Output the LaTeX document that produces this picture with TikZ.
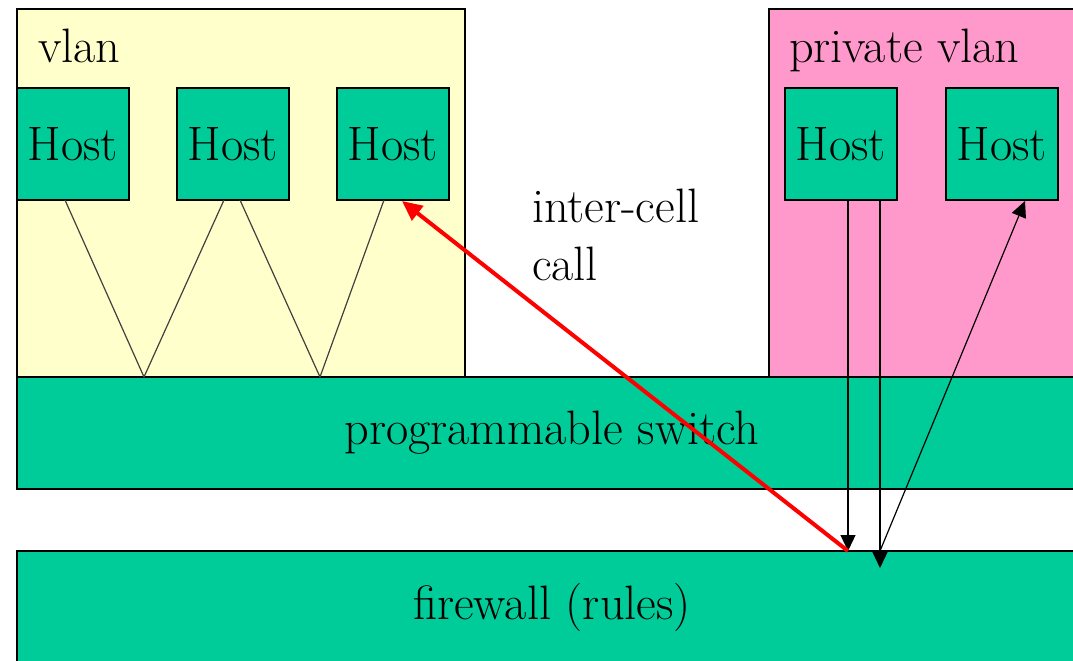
\documentclass[tikz,border=0pt]{standalone}
\usetikzlibrary{arrows.meta,calc}
\definecolor{hostgreen}{HTML}{00CC99}
\definecolor{vlanyellow}{HTML}{FFFFCC}
\definecolor{vlanpink}{HTML}{FF99CC}
\definecolor{callred}{HTML}{FF0000}

\begin{document}
\begin{tikzpicture}[x=1bp, y=-1bp,
  font=\rmfamily\fontsize{48.5}{58}\selectfont,
  every node/.style={outer sep=0pt},
  region/.style={draw=black, line width=1.3bp, anchor=north west, inner sep=0pt,
                 minimum height=368bp},
  hostbox/.style={draw=black, line width=1.3bp, fill=hostgreen, anchor=north west,
                  inner sep=0pt, minimum width=112bp, minimum height=112bp},
  bar/.style={draw=black, line width=1.3bp, fill=hostgreen, anchor=north west,
              inner sep=0pt, minimum width=1070bp, minimum height=112bp},
  label/.style={anchor=base west, inner sep=0pt},
  link/.style={draw=black!75, line width=1.2bp},
  flow/.style={draw=black, line width=1.2bp, -{Triangle[length=16bp, width=15bp]}},
  callarrow/.style={draw=callred, line width=4bp, -{Triangle[length=20bp, width=18bp]}}]

\useasboundingbox (0,0) rectangle (1073,661);
\clip (0,0) rectangle (1073,661);

% the two vlan regions
\node[region, fill=vlanyellow, minimum width=448bp] (vlan) at (17,9) {};
\node[region, fill=vlanpink, minimum width=320bp] (pvlan) at (769,9) {};
\node[label] (vlanlabel) at (38,63) {vlan};
\node[label] (pvlanlabel) at (789,63) {private vlan};

% hosts
\node[hostbox] (h1) at (17,88) {Host};
\node[hostbox] (h2) at (177,88) {Host};
\node[hostbox] (h3) at (337,88) {Host};
\node[hostbox] (h4) at (785,88) {Host};
\node[hostbox] (h5) at (946,88) {Host};

% switch and firewall
\node[bar] (switch) at (17,377) {programmable switch};
\node[bar] (firewall) at (17,551) {firewall (rules)};

% wiring of the vlan hosts to the switch
\coordinate (p1) at ($(h1.south)+(-8,0)$);
\coordinate (p2) at ($(h2.south)+(-9,0)$);
\coordinate (p3) at ($(h2.south)+(7,0)$);
\coordinate (p4) at ($(h3.south)+(-9,0)$);
\coordinate (s1) at ($(switch.north west)+(127,0)$);
\coordinate (s2) at ($(switch.north west)+(303,0)$);
\draw[link] (p1) -- (s1) -- (p2);
\draw[link] (p3) -- (s2) -- (p4);

% private vlan traffic through the firewall
\coordinate (f1) at ($(firewall.north west)+(831,0)$);
\coordinate (f2) at ($(firewall.north west)+(863,0)$);
\coordinate (f3) at ($(firewall.north west)+(863,17)$);
\coordinate (q1) at (f1 |- h4.south);
\coordinate (q2) at (f2 |- h4.south);
\coordinate (q3) at ($(h5.south)+(23,1)$);
\draw[flow] (q1) -- (f1);
\draw[flow] (q2) -- (f3);
\draw[flow] (f2) -- (q3);

% inter-cell call
\node[label] (calltext1) at (532,222) {inter-cell};
\node[label] (calltext2) at (532,280) {call};
\coordinate (r1) at ($(h3.south)+(9,1)$);
\draw[callarrow] (f1) -- (r1);
\end{tikzpicture}
\end{document}
